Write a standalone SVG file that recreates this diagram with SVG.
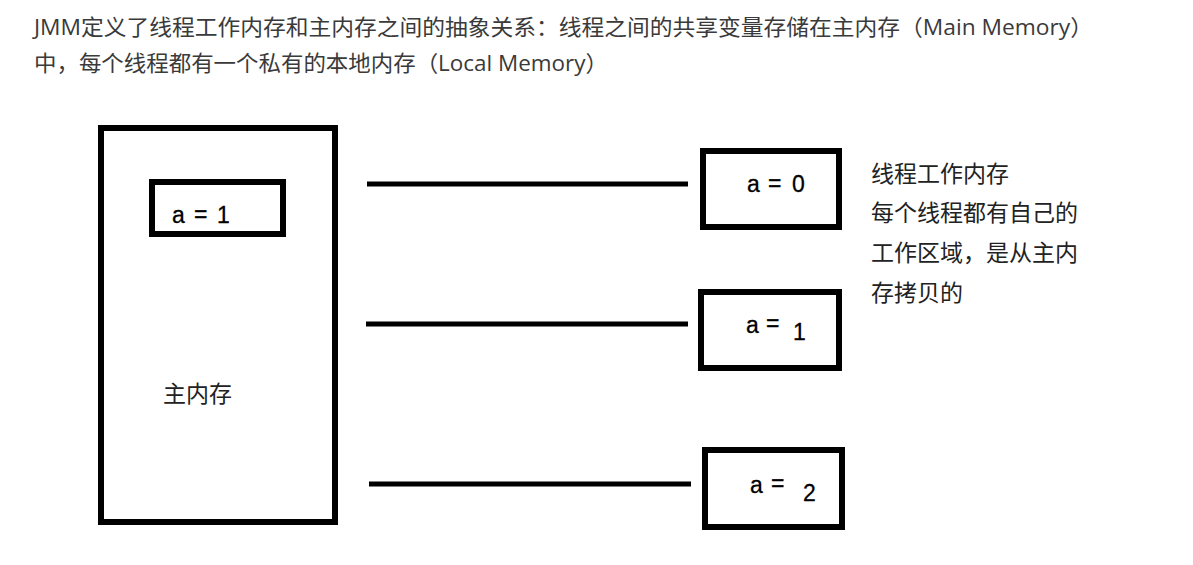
<svg xmlns="http://www.w3.org/2000/svg" width="1193" height="565" viewBox="0 0 1193 565">
<style>
.box{fill:none;stroke:#000;stroke-width:6}
.conn line{stroke:#000;stroke-width:5}
.hdr{font-family:"Open Sans","Noto Sans CJK SC",sans-serif;font-size:22px;fill:#3a3a3a}
.cjk{font-family:"Noto Sans CJK SC",sans-serif;font-size:23px;fill:#222}
.val{font-family:"Liberation Sans",Arial,sans-serif;font-size:23px;fill:#000;stroke:#000;stroke-width:0.3}
</style>
<rect width="1193" height="565" fill="#fff"/>
<text class="hdr" x="34" y="35" textLength="1059" lengthAdjust="spacingAndGlyphs">JMM定义了线程工作内存和主内存之间的抽象关系：线程之间的共享变量存储在主内存（Main Memory）</text>
<text class="hdr" x="34" y="71" textLength="574" lengthAdjust="spacingAndGlyphs">中，每个线程都有一个私有的本地内存（Local Memory）</text>
<g id="main-memory">
<rect class="box" x="101" y="128" width="234" height="394"/>
<text class="cjk" x="163" y="402">主内存</text>
</g>
<g id="main-var">
<rect class="box" x="152" y="182" width="131" height="52"/>
<text class="val" x="172" y="223">a</text>
<text class="val" x="194" y="222">=</text>
<text class="val" x="217" y="223">1</text>
</g>
<g id="connectors" class="conn">
<line x1="367" y1="184" x2="688" y2="184"/>
<line x1="366" y1="324" x2="688" y2="324"/>
<line x1="369" y1="484" x2="691" y2="484"/>
</g>
<g id="local-0">
<rect class="box" x="703" y="151" width="136" height="76"/>
<text class="val" x="747" y="192">a</text>
<text class="val" x="768" y="191">=</text>
<text class="val" x="792" y="192">0</text>
</g>
<g id="local-1">
<rect class="box" x="701" y="292" width="138" height="76"/>
<text class="val" x="746" y="333">a</text>
<text class="val" x="766" y="331">=</text>
<text class="val" x="793" y="340">1</text>
</g>
<g id="local-2">
<rect class="box" x="705" y="450" width="137" height="77"/>
<text class="val" x="750" y="493">a</text>
<text class="val" x="771" y="491">=</text>
<text class="val" x="803" y="501">2</text>
</g>
<g id="note">
<text class="cjk" x="871" y="182">线程工作内存</text>
<text class="cjk" x="871" y="221">每个线程都有自己的</text>
<text class="cjk" x="871" y="261">工作区域，是从主内</text>
<text class="cjk" x="871" y="301">存拷贝的</text>
</g>
</svg>
